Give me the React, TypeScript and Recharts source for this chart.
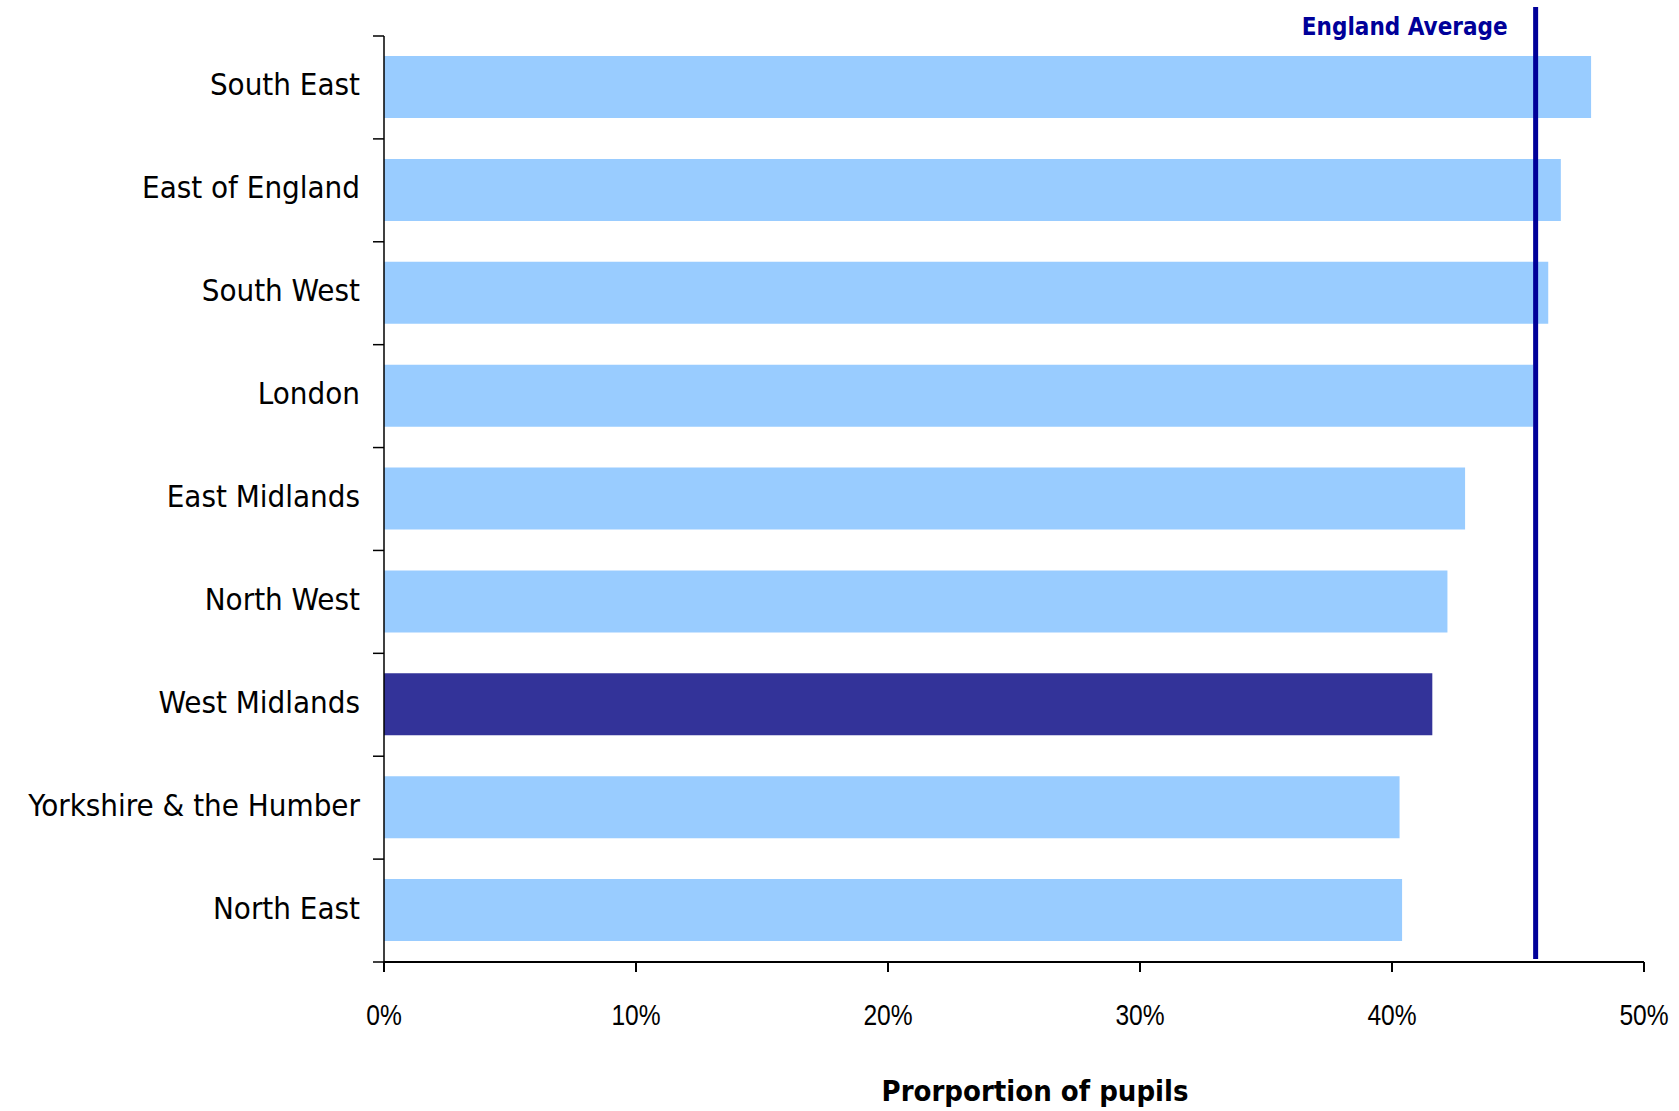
import { BarChart, Bar, XAxis, YAxis, Cell, ReferenceLine } from 'recharts';

const regions = [
  'South East',
  'East of England',
  'South West',
  'London',
  'East Midlands',
  'North West',
  'West Midlands',
  'Yorkshire & the Humber',
  'North East',
];
const proportions = [47.9, 46.7, 46.2, 45.6, 42.9, 42.2, 41.6, 40.3, 40.4];
const highlighted = 'West Midlands';
const englandAverage = 45.7;
const xTicks = [0, 10, 20, 30, 40, 50];

const data = regions.map((region, i) => ({ region, value: proportions[i] }));

const LABEL_FONT = "'DejaVu Sans Condensed', 'DejaVu Sans', sans-serif";
const TICK_FONT = "'Liberation Sans', Arial, sans-serif";

function RegionTick(props: any) {
  const { x, y, payload } = props;
  return (
    <text x={x} y={y} dy={8} textAnchor="end" fontFamily={LABEL_FONT} fontSize={31} fill="#000">
      {payload.value}
    </text>
  );
}

function PercentTick(props: any) {
  const { x, y, payload } = props;
  // narrow face: squeeze horizontally
  return (
    <text
      transform={`translate(${x},${y}) scale(0.82,1)`}
      dy={21}
      textAnchor="middle"
      fontFamily={TICK_FONT}
      fontSize={30}
      fill="#000"
    >
      {`${payload.value}%`}
    </text>
  );
}

// short tick on the y axis at a band edge
function BoundaryTick(props: any) {
  const { x1, x2, y1 } = props;
  const left = Math.min(x1, x2);
  return <line x1={left - 11} x2={left} y1={y1} y2={y1} stroke="#000" strokeWidth={1.5} />;
}

function AverageLine(props: any) {
  const { x1, x2, y1, y2 } = props;
  const top = Math.min(y1, y2);
  const bottom = Math.max(y1, y2);
  return (
    <g>
      <line x1={x1} x2={x2} y1={top - 29} y2={bottom - 3} stroke="#000099" strokeWidth={5} />
      <text
        x={x1 - 28}
        y={top - 1}
        textAnchor="end"
        fontFamily={LABEL_FONT}
        fontWeight="bold"
        fontSize={24}
        fill="#000099"
      >
        England Average
      </text>
    </g>
  );
}

export default function App() {
  return (
    <div style={{ position: 'absolute', left: 0, top: 0, background: '#fff' }}>
      <BarChart
        width={1679}
        height={1111}
        data={data}
        layout="vertical"
        margin={{ top: 36, right: 35, left: 0, bottom: 0 }}
      >
        <YAxis
          yAxisId="a"
          type="category"
          dataKey="region"
          width={384}
          axisLine={{ stroke: '#000', strokeWidth: 1.5 }}
          tickLine={false}
          tickSize={11}
          tickMargin={13}
          tick={<RegionTick />}
          interval={0}
        />
        <XAxis
          type="number"
          domain={[0, 50]}
          ticks={xTicks}
          height={149}
          axisLine={{ stroke: '#000', strokeWidth: 2 }}
          tickLine={{ stroke: '#000', strokeWidth: 2 }}
          tickSize={10}
          tickMargin={32}
          tick={<PercentTick />}
          label={{
            content: (p: any) => (
              <text
                x={p.viewBox.x + p.viewBox.width / 2 + 21}
                y={p.viewBox.y + 139}
                textAnchor="middle"
                fontFamily={LABEL_FONT}
                fontWeight="bold"
                fontSize={29}
                fill="#000"
              >
                Prorportion of pupils
              </text>
            ),
          }}
        />
        <Bar yAxisId="a" dataKey="value" barSize={62} isAnimationActive={false}>
          {data.map((d) => (
            <Cell key={d.region} fill={d.region === highlighted ? '#333399' : '#99CCFF'} />
          ))}
        </Bar>
        {regions.map((r) => (
          <ReferenceLine key={r} yAxisId="a" y={r} position="start" shape={<BoundaryTick />} />
        ))}
        <ReferenceLine
          yAxisId="a"
          y={regions[regions.length - 1]}
          position="end"
          shape={<BoundaryTick />}
        />
        <ReferenceLine yAxisId="a" x={englandAverage} shape={<AverageLine />} />
      </BarChart>
    </div>
  );
}
